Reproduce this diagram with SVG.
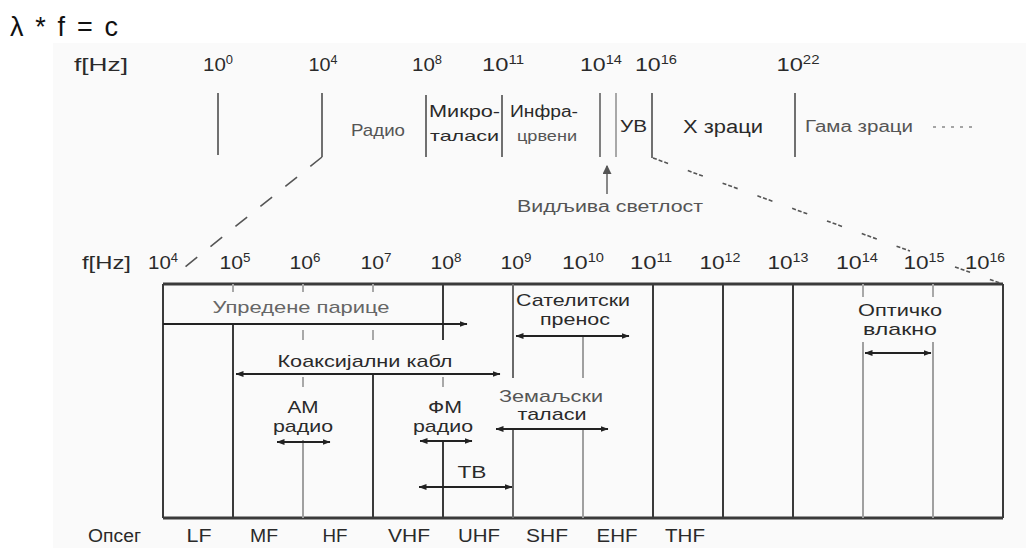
<svg xmlns="http://www.w3.org/2000/svg" width="1026" height="548" viewBox="0 0 1026 548">
<style>
text{font-family:"Liberation Sans",Arial,sans-serif;fill:#2a2a2a}
.n{font-size:19px;text-anchor:middle}
.s{font-size:12px}
.lbl{font-size:17px;text-anchor:middle}
.lt{fill:#555}
.top{stroke:#707070;stroke-width:2;fill:none}
.dk{stroke:#3a3a3a;stroke-width:2;fill:none}
.gr{stroke:#a0a0a0;stroke-width:2;fill:none}
.tk{stroke:#a8a8a8;stroke-width:2;fill:none}
.arr{stroke:#222;stroke-width:2;fill:none}
.ab{marker-end:url(#ah);marker-start:url(#ah)}
.ae{marker-end:url(#ah)}
</style>
<defs>
<marker id="ah" viewBox="0 0 8 6" markerWidth="8" markerHeight="6" refX="7.5" refY="3" orient="auto-start-reverse" markerUnits="userSpaceOnUse">
<path d="M0,0 L8,3 L0,6 z" fill="#222"/>
</marker>
<marker id="ahg" viewBox="0 0 8 8" markerWidth="9" markerHeight="9" refX="7" refY="4" orient="auto" markerUnits="userSpaceOnUse">
<path d="M0,0 L8,4 L0,8 z" fill="#555"/>
</marker>
</defs>
<rect x="0" y="0" width="1026" height="548" fill="#ffffff"/>
<rect x="53" y="43" width="973" height="505" fill="#fafafa"/>

<text x="10" y="36" font-size="27" textLength="108" style="fill:#111">λ * f = c</text>

<g id="top-axis">
<text x="74" y="71" font-size="18" textLength="54" lengthAdjust="spacingAndGlyphs">f[Hz]</text>
<text class="n" x="218" y="71" textLength="30" lengthAdjust="spacingAndGlyphs">10<tspan class="s" dy="-7">0</tspan></text>
<text class="n" x="323" y="71" textLength="29" lengthAdjust="spacingAndGlyphs">10<tspan class="s" dy="-7">4</tspan></text>
<text class="n" x="427" y="71" textLength="30" lengthAdjust="spacingAndGlyphs">10<tspan class="s" dy="-7">8</tspan></text>
<text class="n" x="503" y="71" textLength="42" lengthAdjust="spacingAndGlyphs">10<tspan class="s" dy="-7">11</tspan></text>
<text class="n" x="601" y="71" textLength="42" lengthAdjust="spacingAndGlyphs">10<tspan class="s" dy="-7">14</tspan></text>
<text class="n" x="656" y="71" textLength="42" lengthAdjust="spacingAndGlyphs">10<tspan class="s" dy="-7">16</tspan></text>
<text class="n" x="798" y="71" textLength="43" lengthAdjust="spacingAndGlyphs">10<tspan class="s" dy="-7">22</tspan></text>
</g>
<g id="band-radio"><text class="lbl lt" x="378" y="136" textLength="54" lengthAdjust="spacingAndGlyphs">Радио</text></g>
<g id="band-micro">
<text x="429" y="117" font-size="16" textLength="71" lengthAdjust="spacingAndGlyphs">Микро-</text>
<text x="430" y="141" font-size="15" textLength="69" lengthAdjust="spacingAndGlyphs">таласи</text>
</g>
<g id="band-ir">
<text x="510" y="117" font-size="16" textLength="68" lengthAdjust="spacingAndGlyphs">Инфра-</text>
<text x="517" y="141" font-size="15" textLength="60" lengthAdjust="spacingAndGlyphs" class="lt">црвени</text>
</g>
<g id="band-uv"><text x="620" y="132" font-size="17" textLength="27" lengthAdjust="spacingAndGlyphs">УВ</text></g>
<g id="band-x"><text x="683" y="133" font-size="18" textLength="80" lengthAdjust="spacingAndGlyphs">X зраци</text></g>
<g id="band-gamma"><text x="805" y="132" font-size="16" textLength="108" lengthAdjust="spacingAndGlyphs" class="lt">Гама зраци</text></g>
<g id="visible"><text x="517" y="212" font-size="16" textLength="186" lengthAdjust="spacingAndGlyphs" class="lt">Видљива светлост</text></g>

<g id="bottom-axis">
<text x="82" y="269" font-size="18" textLength="49" lengthAdjust="spacingAndGlyphs">f[Hz]</text>
<text class="n" x="163" y="269" textLength="30" lengthAdjust="spacingAndGlyphs">10<tspan class="s" dy="-7">4</tspan></text>
<text class="n" x="235" y="269" textLength="31" lengthAdjust="spacingAndGlyphs">10<tspan class="s" dy="-7">5</tspan></text>
<text class="n" x="305" y="269" textLength="31" lengthAdjust="spacingAndGlyphs">10<tspan class="s" dy="-7">6</tspan></text>
<text class="n" x="376" y="269" textLength="31" lengthAdjust="spacingAndGlyphs">10<tspan class="s" dy="-7">7</tspan></text>
<text class="n" x="446" y="269" textLength="31" lengthAdjust="spacingAndGlyphs">10<tspan class="s" dy="-7">8</tspan></text>
<text class="n" x="516" y="269" textLength="31" lengthAdjust="spacingAndGlyphs">10<tspan class="s" dy="-7">9</tspan></text>
<text class="n" x="583" y="269" textLength="42" lengthAdjust="spacingAndGlyphs">10<tspan class="s" dy="-7">10</tspan></text>
<text class="n" x="651" y="269" textLength="42" lengthAdjust="spacingAndGlyphs">10<tspan class="s" dy="-7">11</tspan></text>
<text class="n" x="720" y="269" textLength="41" lengthAdjust="spacingAndGlyphs">10<tspan class="s" dy="-7">12</tspan></text>
<text class="n" x="788" y="269" textLength="41" lengthAdjust="spacingAndGlyphs">10<tspan class="s" dy="-7">13</tspan></text>
<text class="n" x="857" y="269" textLength="42" lengthAdjust="spacingAndGlyphs">10<tspan class="s" dy="-7">14</tspan></text>
<text class="n" x="924" y="269" textLength="41" lengthAdjust="spacingAndGlyphs">10<tspan class="s" dy="-7">15</tspan></text>
<text class="n" x="985" y="269" textLength="40" lengthAdjust="spacingAndGlyphs">10<tspan class="s" dy="-7">16</tspan></text>
</g>
<g id="bands">
<text x="88" y="542" font-size="18" textLength="53" lengthAdjust="spacingAndGlyphs">Опсег</text>
<text class="n" x="199" y="542" textLength="25" lengthAdjust="spacingAndGlyphs">LF</text>
<text class="n" x="264" y="542" textLength="28" lengthAdjust="spacingAndGlyphs">MF</text>
<text class="n" x="335" y="542" textLength="25" lengthAdjust="spacingAndGlyphs">HF</text>
<text class="n" x="409" y="542" textLength="42" lengthAdjust="spacingAndGlyphs">VHF</text>
<text class="n" x="479" y="542" textLength="42" lengthAdjust="spacingAndGlyphs">UHF</text>
<text class="n" x="547" y="542" textLength="42" lengthAdjust="spacingAndGlyphs">SHF</text>
<text class="n" x="617" y="542" textLength="41" lengthAdjust="spacingAndGlyphs">EHF</text>
<text class="n" x="685" y="542" textLength="40" lengthAdjust="spacingAndGlyphs">THF</text>
</g>

<g id="box">
<path d="M163,284 H1003 M163,518 H1003" stroke="#3a3a3a" stroke-width="3" fill="none"/>
<path d="M163,284 V518 M1003,284 V518" class="dk"/>
<path d="M653,284 V518 M723,284 V518 M793,284 V518" class="dk"/>
<path d="M233,284 V292 M303,284 V292 M373,284 V292 M303,330 V340 M373,330 V340 M303,377 V387 M443,377 V387 M863,284 V297 M933,284 V297" class="tk"/>
<path d="M233,325 V518 M373,374 V518 M443,284 V340 M443,442 V518" class="dk"/>
<path d="M303,440 V518 M583,336 V378 M583,430 V518 M863,342 V518 M933,342 V518" class="gr"/>
<path d="M513,284 V378 M513,430 V518" stroke="#6a6a6a" stroke-width="2" fill="none"/>
</g>

<g id="twisted"><text class="lbl" x="301" y="313" textLength="177" lengthAdjust="spacingAndGlyphs" style="fill:#666">Упредене парице</text></g>
<g id="coax"><text class="lbl" x="365" y="367" font-size="18" textLength="175" lengthAdjust="spacingAndGlyphs">Коаксијални кабл</text></g>
<g id="am">
<text class="lbl" x="303" y="413" font-size="18" textLength="31" lengthAdjust="spacingAndGlyphs">АМ</text>
<text class="lbl" x="303" y="432" font-size="18" textLength="60" lengthAdjust="spacingAndGlyphs">радио</text>
</g>
<g id="fm">
<text class="lbl" x="445" y="413" font-size="18" textLength="34" lengthAdjust="spacingAndGlyphs">ФМ</text>
<text class="lbl" x="443" y="432" font-size="18" textLength="60" lengthAdjust="spacingAndGlyphs">радио</text>
</g>
<g id="tv"><text class="lbl" x="472" y="478" font-size="18" textLength="29" lengthAdjust="spacingAndGlyphs">ТВ</text></g>
<g id="satellite">
<text class="lbl" x="573" y="306" font-size="16" textLength="114" lengthAdjust="spacingAndGlyphs">Сателитски</text>
<text class="lbl" x="575" y="325" font-size="16" textLength="70" lengthAdjust="spacingAndGlyphs">пренос</text>
</g>
<g id="terrestrial">
<text class="lbl lt" x="551" y="402" font-size="16" textLength="104" lengthAdjust="spacingAndGlyphs">Земаљски</text>
<text class="lbl" x="552" y="420" font-size="16" textLength="69" lengthAdjust="spacingAndGlyphs">таласи</text>
</g>
<g id="fiber">
<text class="lbl" x="900" y="316" font-size="16" textLength="84" lengthAdjust="spacingAndGlyphs">Оптичко</text>
<text class="lbl" x="900" y="335" font-size="16" textLength="74" lengthAdjust="spacingAndGlyphs">влакно</text>
</g>

<g id="connectors">
<path d="M218,93 V155 M426,95 V157 M502,95 V157 M795,93 V157" class="top"/>
<path d="M600,93 V157" stroke="#808080" stroke-width="2"/>
<path d="M616,93 V157" stroke="#a8a8a8" stroke-width="2"/>
<path d="M322,93 V157 M652,93 V158" class="top"/>
<path d="M322,157 L175,275" stroke="#555" stroke-width="1.6" stroke-dasharray="15,17" fill="none"/>
<path d="M653,158 L910,251 M955,267 L1000,283" stroke="#555" stroke-width="1.6" stroke-dasharray="4,2,4,2,4,21" fill="none"/>
<path d="M933,127 H972" stroke="#888" stroke-width="1.5" stroke-dasharray="3,6" fill="none"/>
<path d="M607,194 V166" stroke="#888" stroke-width="2" fill="none" marker-end="url(#ahg)"/>
<path d="M163,324 H467" class="arr ae" stroke-width="2.5"/>
<path d="M236,374 H500" class="arr ab"/>
<path d="M277,442 H330" class="arr ab"/>
<path d="M420,441 H472" class="arr ab"/>
<path d="M419,487 H512" class="arr ab"/>
<path d="M516,336 H629" class="arr ab"/>
<path d="M496,429 H608" class="arr ab"/>
<path d="M865,353 H931" class="arr ab"/>
</g>
</svg>
